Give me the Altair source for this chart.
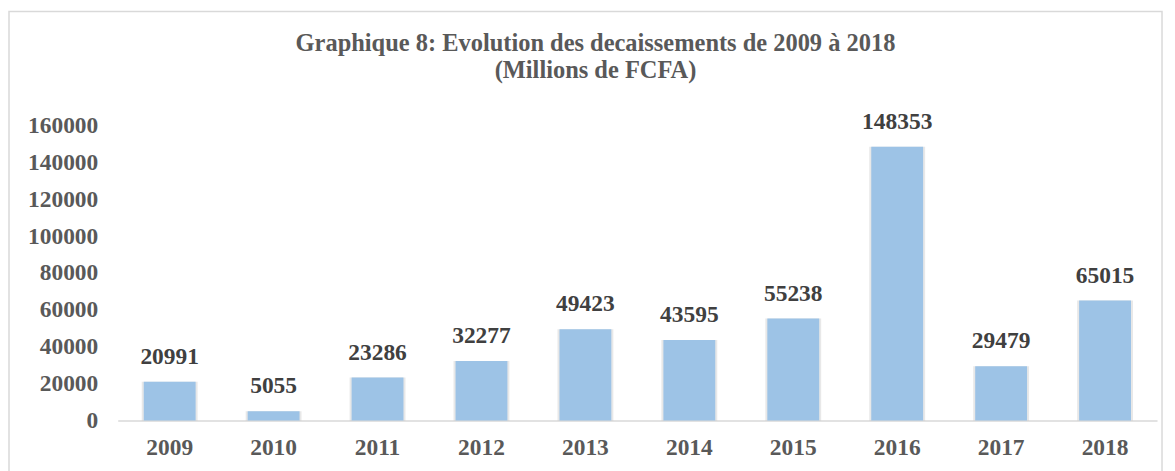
import altair as alt
import pandas as pd

years = ["2009", "2010", "2011", "2012", "2013", "2014", "2015", "2016", "2017", "2018"]
values = [20991, 5055, 23286, 32277, 49423, 43595, 55238, 148353, 29479, 65015]
y_ticks = [0, 20000, 40000, 60000, 80000, 100000, 120000, 140000, 160000]
title_lines = ["Graphique 8: Evolution des decaissements de 2009 à 2018", "(Millions de FCFA)"]

df = pd.DataFrame({"year": years, "value": values})

FONT = "Liberation Serif"
LBL = 23.5
x_enc = alt.X("year:N", sort=years,
              scale=alt.Scale(paddingInner=0.5, paddingOuter=0.25),
              axis=alt.Axis(title=None, labelAngle=0, ticks=False, domainColor="#d9d9d9",
                            domainWidth=1.5, labelPadding=15, labelFont=FONT,
                            labelFontSize=LBL, labelFontWeight="bold", labelColor="#595959"))
y_enc = alt.Y("value:Q", scale=alt.Scale(domain=[0, 160000], nice=False),
              axis=alt.Axis(title=None, values=y_ticks, grid=False, domain=False, ticks=False,
                            labelPadding=20, labelFont=FONT, labelFontSize=LBL,
                            labelFontWeight="bold", labelColor="#595959", format="d"))

base = alt.Chart(df)
first = base.transform_filter(alt.datum.year == "2009")

border = first.mark_rect(fill=None, stroke="#d9d9d9", strokeWidth=1.5).encode(
    x=alt.value(-109), x2=alt.value(1047), y=alt.value(-114), y2=alt.value(360))

title1 = first.mark_text(font=FONT, fontSize=24.5, fontWeight="bold", color="#595959",
                         baseline="middle", align="center", text=title_lines[0]).encode(
    x=alt.value(479), y=alt.value(-82))
title2 = first.mark_text(font=FONT, fontSize=24.5, fontWeight="bold", color="#595959",
                         baseline="middle", align="center", text=title_lines[1]).encode(
    x=alt.value(479), y=alt.value(-54))

shadow = base.mark_bar(color="#7f7f7f", opacity=0.18, width=56).encode(
    x=x_enc, y=y_enc)

bars = base.mark_bar(color="#9dc3e6", width=52).encode(x=x_enc, y=y_enc)

labels = base.mark_text(baseline="bottom", dy=-13, font=FONT, fontSize=LBL,
                        fontWeight="bold", color="#404040").encode(
    x=x_enc, y=y_enc, text=alt.Text("value:Q", format="d"))

chart = alt.layer(border, title1, title2, shadow, bars, labels).properties(
    width=1042, height=296,
    autosize=alt.AutoSizeParams(type="none"),
    padding={"left": 110, "top": 117, "right": 10, "bottom": 60},
).configure_view(stroke=None)

chart.save("out.html", embed_options={"renderer": "svg", "actions": False})
